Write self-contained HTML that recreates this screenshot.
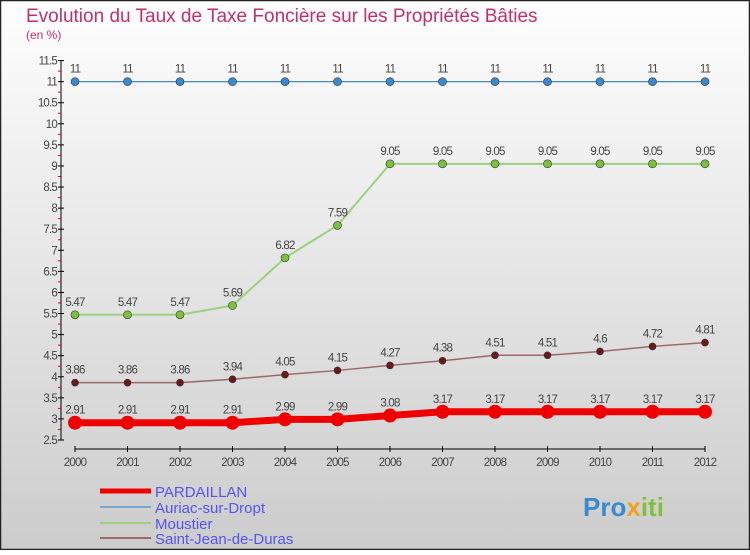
<!DOCTYPE html>
<html><head><meta charset="utf-8"><style>
body{margin:0;width:750px;height:550px;overflow:hidden;font-family:"Liberation Sans",sans-serif}
</style></head><body>
<svg width="750" height="550" xmlns="http://www.w3.org/2000/svg">
<defs><linearGradient id="bg" x1="0" y1="0" x2="0" y2="1"><stop offset="0" stop-color="#fefefe"/><stop offset="1" stop-color="#cccccc"/></linearGradient></defs>
<rect x="0.5" y="0.5" width="749" height="549" fill="url(#bg)" stroke="#222" stroke-width="1.5"/>
<text x="26" y="22" font-size="19" fill="#c2306a">Evolution du Taux de Taxe Foncière sur les Propriétés Bâties</text>
<text x="26" y="39" font-size="12" fill="#c2306a">(en %)</text>
<g id="axes"></g><g id="series"></g>
<g>
<line x1="100" y1="491" x2="151" y2="491" stroke="#e00" stroke-width="5"/>
<text x="155" y="497" font-size="15" fill="#5555ee">PARDAILLAN</text>
<line x1="100" y1="507" x2="151" y2="507" stroke="#7aa8cc" stroke-width="2"/>
<text x="155" y="513" font-size="15" fill="#5555ee">Auriac-sur-Dropt</text>
<line x1="100" y1="523" x2="151" y2="523" stroke="#9cd080" stroke-width="2"/>
<text x="155" y="529" font-size="15" fill="#5555ee">Moustier</text>
<line x1="100" y1="538" x2="151" y2="538" stroke="#9a6a6a" stroke-width="2"/>
<text x="155" y="544" font-size="15" fill="#5555ee">Saint-Jean-de-Duras</text>
</g>
<text x="583" y="516" font-size="26" font-weight="bold" fill="#3a8ad0">Pro<tspan fill="#f0a020">x</tspan><tspan fill="#80c040">iti</tspan></text>
</svg>
<script>
const years=[2000,2001,2002,2003,2004,2005,2006,2007,2008,2009,2010,2011,2012];
const pardaillan=[2.91,2.91,2.91,2.91,2.99,2.99,3.08,3.17,3.17,3.17,3.17,3.17,3.17];
const auriac=[11,11,11,11,11,11,11,11,11,11,11,11,11];
const moustier=[5.47,5.47,5.47,5.69,6.82,7.59,9.05,9.05,9.05,9.05,9.05,9.05,9.05];
const saintJean=[3.86,3.86,3.86,3.94,4.05,4.15,4.27,4.38,4.51,4.51,4.6,4.72,4.81];
const yTicks=[2.5,3,3.5,4,4.5,5,5.5,6,6.5,7,7.5,8,8.5,9,9.5,10,10.5,11,11.5];
const NS="http://www.w3.org/2000/svg";
const xs=i=>75+i*52.5;
const ys=v=>440-(v-2.5)*42.16;
function mk(tag,attrs,parent,txt){const e=document.createElementNS(NS,tag);for(const k in attrs)e.setAttribute(k,attrs[k]);if(txt!==undefined)e.textContent=txt;parent.appendChild(e);return e;}
const ax=document.getElementById('axes');
let yl=mk('line',{x1:61,y1:ys(11.5),x2:61,y2:ys(2.5),stroke:'#000'},ax);


yTicks.forEach(t=>{
 let l=mk('line',{x1:58,y1:ys(t),x2:64,y2:ys(t),stroke:'#000'},ax);
 
 
 let tx=mk('text',{x:57,y:ys(t)+4,'text-anchor':'end','font-size':11.5,fill:'#444','letter-spacing':'-0.8'},ax,String(t));
 
 
 if(t<11.5){let m=mk('line',{x1:58,y1:ys(t+0.25),x2:61,y2:ys(t+0.25),stroke:'#e00'},ax);
 
 }
});
let xl=mk('line',{x1:xs(0),y1:449,x2:xs(12),y2:449,stroke:'#000'},ax);


years.forEach((y,i)=>{
 let l=mk('line',{x1:xs(i),y1:446,x2:xs(i),y2:452,stroke:'#000'},ax);
 
 
 let tx=mk('text',{x:xs(i),y:466,'text-anchor':'middle','font-size':11.5,fill:'#444','letter-spacing':'-0.8'},ax,String(y));
 
 
});
const sg=document.getElementById('series');
function series(vals,name,line,pt,w,r){
 const g=mk('g',{},sg);
 
 
 let p=mk('polyline',{points:vals.map((v,i)=>xs(i)+','+ys(v)).join(' '),fill:'none',stroke:line,'stroke-width':w},g);
 
 
 vals.forEach((v,i)=>{
  let c=mk('circle',{cx:xs(i),cy:ys(v),r:r,fill:pt,stroke:w>3?pt:'#333','stroke-width':w>3?0:0.6},g);
  
  
  let t=mk('text',{x:xs(i),y:ys(v)-9,'text-anchor':'middle','font-size':11.5,fill:'#444','letter-spacing':'-0.8'},g,String(v));
  
  
 });
}
series(auriac,'auriac','#4a88c0','#3a8ad0',1.2,4);
series(moustier,'moustier','#9cd080','#7cc040',2,4);
series(saintJean,'saint-jean','#9a6a6a','#6a1a1a',1.5,3.5);
series(pardaillan,'pardaillan','#e00','#e00',7,7);
</script>
</body></html>
